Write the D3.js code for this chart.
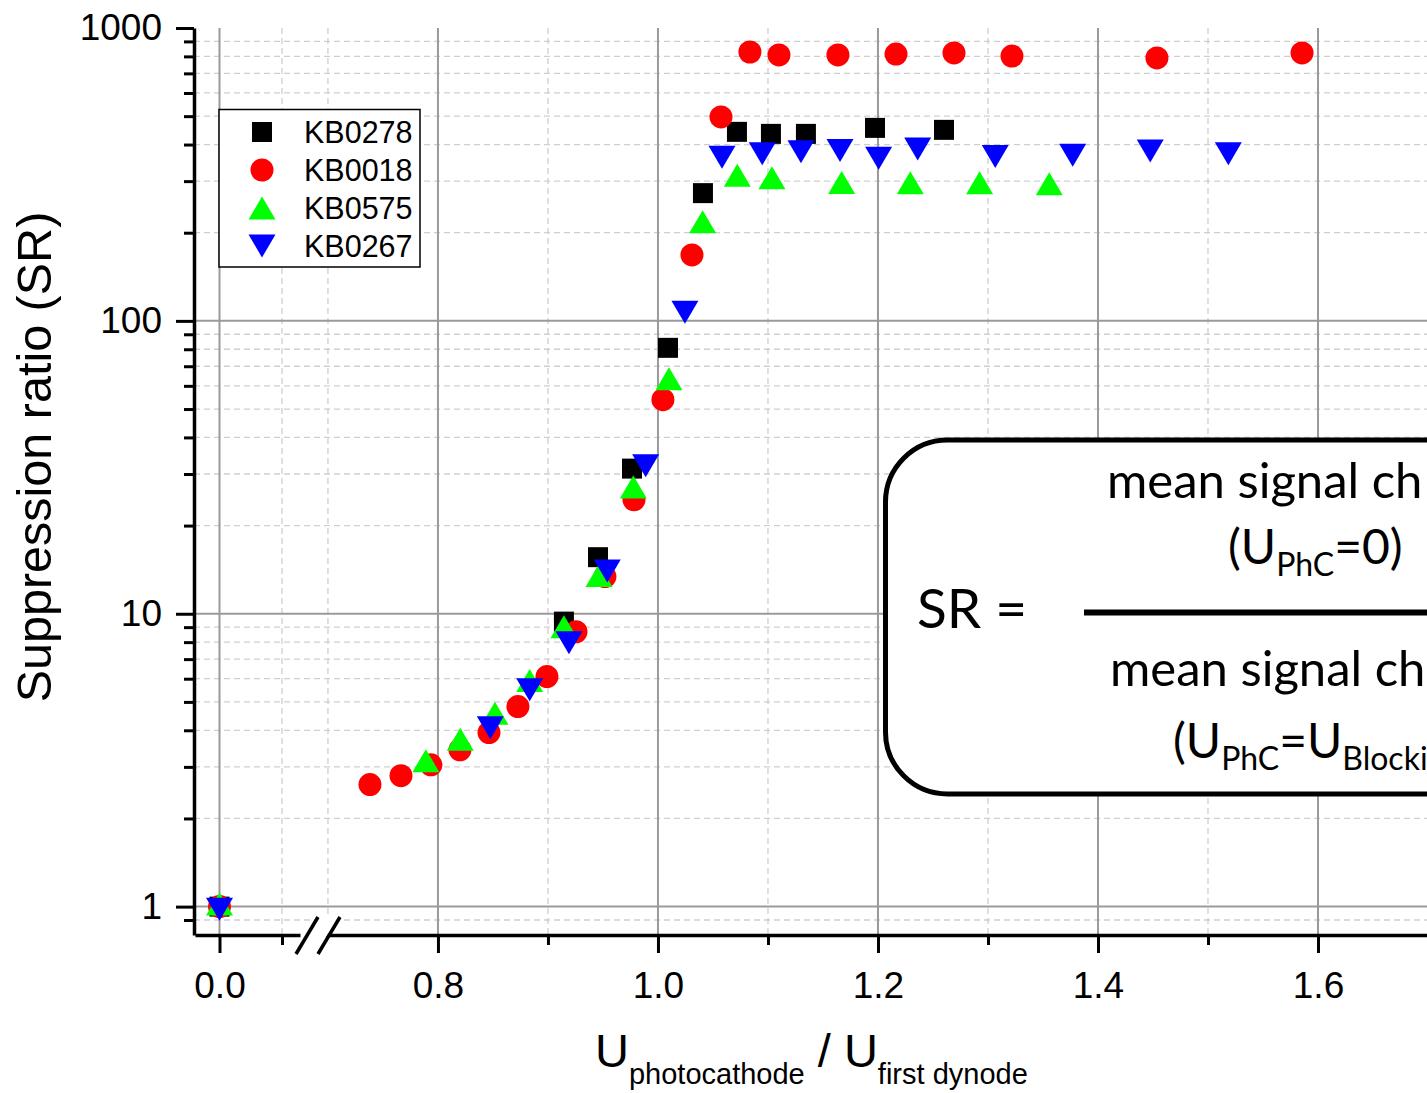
<!DOCTYPE html>
<html><head><meta charset="utf-8">
<script src="https://cdn.jsdelivr.net/npm/d3@7"></script>
<style>
body{margin:0;background:#fff;}
svg{display:block;}
text{font-family:"Liberation Sans",Arial,sans-serif;}
.f{font-family:Lato,"Open Sans",sans-serif;}
</style>
</head><body>
<svg id="c" width="1427" height="1093"></svg>
<script>
// ---------- data ----------
const seriesNames = ["KB0278", "KB0018", "KB0575", "KB0267"];
const seriesColors = ["#000000", "#ff0000", "#00ff00", "#0000ff"];
const seriesShapes = ["square", "circle", "up", "down"];

const kb0278X = [0.0, 0.9145, 0.9455, 0.9764, 1.0091, 1.0409, 1.0718, 1.1027, 1.1345, 1.1973, 1.2600];
const kb0278Y = [1.0, 9.4, 15.6, 31.3, 80.9, 273, 442, 435, 435, 456, 449];

const kb0018X = [0.0, 0.7382, 0.7664, 0.7936, 0.8200, 0.8464, 0.8727, 0.8991, 0.9255, 0.9518, 0.9782, 1.0045, 1.0309, 1.0573, 1.0836, 1.1100, 1.1636, 1.2164, 1.2691, 1.3218, 1.4536, 1.5855];
const kb0018Y = [1.0, 2.61, 2.80, 3.05, 3.43, 3.93, 4.82, 6.10, 8.68, 13.4, 24.5, 53.8, 168, 497, 828, 809, 809, 815, 822, 802, 790, 822];

const kb0575X = [0.0, 0.7890, 0.8203, 0.8518, 0.8834, 0.9145, 0.9464, 0.9776, 1.0100, 1.0406, 1.0721, 1.1036, 1.1670, 1.2294, 1.2924, 1.3557];
const kb0575Y = [1.02, 3.15, 3.73, 4.57, 5.92, 9.03, 13.5, 27.1, 63.5, 218, 314, 308, 297, 296, 296, 294];

const kb0267X = [0.0, 0.8476, 0.8834, 0.9191, 0.9539, 0.9888, 1.0245, 1.0582, 1.0948, 1.1300, 1.1655, 1.2006, 1.2361, 1.3066, 1.3770, 1.4475, 1.5185];
const kb0267Y = [0.98, 4.08, 5.50, 7.96, 14.0, 32.0, 107, 362, 372, 378, 382, 359, 386, 364, 368, 380, 372];

const xMajorTicksLeft = [0.0];
const xMinorTicksLeft = [0.1];
const xMajorTicksRight = [0.8, 1.0, 1.2, 1.4, 1.6];
const xMinorTicksRight = [0.9, 1.1, 1.3, 1.5, 1.7];
const xMinorGridRight = [0.7, 0.9, 1.1, 1.3, 1.5];
const yMajorTicks = [1, 10, 100, 1000];
const yTickLabels = ["1", "10", "100", "1000"];
const yMinorTicks = [0.9, 2, 3, 4, 5, 6, 7, 8, 9, 20, 30, 40, 50, 60, 70, 80, 90, 200, 300, 400, 500, 600, 700, 800, 900];

const xTitleMain = "U";
const xTitleSub1 = "photocathode";
const xTitleSub2 = "first dynode";
const yTitle = "Suppression ratio (SR)";

// ---------- layout ----------
const svg = d3.select("#c");
const plotTop = 28, plotBottom = 935, axisX = 194;

const y = d3.scaleLog().domain([0.8, 1000]).range([plotBottom, plotTop]);
const xL = d3.scaleLinear().domain([-0.0392, 0.1288]).range([195, 300]);
const xR = d3.scaleLinear().domain([0.6955, 1.7]).range([323, 1428]);
const x = v => (v < 0.4 ? xL(v) : xR(v));

// ---------- gridlines ----------
const grid = svg.append("g");
grid.append("g").selectAll("line").data(yMinorTicks).join("line")
  .attr("x1", axisX).attr("x2", 1427).attr("y1", d => y(d)).attr("y2", d => y(d))
  .attr("stroke", "#cfcfcf").attr("stroke-width", 1.3).attr("stroke-dasharray", "6,4");
grid.append("g").selectAll("line").data(xMinorTicksLeft).join("line")
  .attr("x1", d => xL(d)).attr("x2", d => xL(d)).attr("y1", plotTop).attr("y2", plotBottom)
  .attr("stroke", "#cfcfcf").attr("stroke-width", 1.3).attr("stroke-dasharray", "6,4");
grid.append("g").selectAll("line").data(xMinorGridRight).join("line")
  .attr("x1", d => xR(d)).attr("x2", d => xR(d)).attr("y1", plotTop).attr("y2", plotBottom)
  .attr("stroke", "#cfcfcf").attr("stroke-width", 1.3).attr("stroke-dasharray", "6,4");
grid.append("g").selectAll("line").data(yMajorTicks.filter(d => d < 1000)).join("line")
  .attr("x1", axisX).attr("x2", 1427).attr("y1", d => y(d)).attr("y2", d => y(d))
  .attr("stroke", "#9a9a9a").attr("stroke-width", 2);
grid.append("g").selectAll("line").data(xMajorTicksLeft.concat(xMajorTicksRight)).join("line")
  .attr("x1", d => x(d)).attr("x2", d => x(d)).attr("y1", plotTop).attr("y2", plotBottom)
  .attr("stroke", "#9a9a9a").attr("stroke-width", 2);

// ---------- axes ----------
function styleAxis(g) {
  g.selectAll("path.domain").attr("stroke", "#000").attr("stroke-width", 3.5);
  g.selectAll(".tick line").attr("stroke", "#000").attr("stroke-width", 3);
  g.selectAll("text").attr("fill", "#000").style("font-family", '"Liberation Sans",Arial,sans-serif').style("font-size", "37px");
}
const yAxisG = svg.append("g").attr("transform", `translate(${axisX},0)`);
yAxisG.call(d3.axisLeft(y).tickValues(yMajorTicks).tickSize(18).tickSizeOuter(0).tickPadding(14)
  .tickFormat((d, i) => yTickLabels[i]));
styleAxis(yAxisG);
const yMinG = svg.append("g").attr("transform", `translate(${axisX},0)`);
yMinG.call(d3.axisLeft(y).tickValues(yMinorTicks).tickSize(10).tickSizeOuter(0).tickFormat(""));
styleAxis(yMinG);
yMinG.select("path.domain").remove();

const xLG = svg.append("g").attr("transform", `translate(0,${plotBottom})`);
xLG.call(d3.axisBottom(xL).tickValues(xMajorTicksLeft).tickSize(18).tickSizeOuter(0).tickPadding(19).tickFormat(d3.format(".1f")));
styleAxis(xLG);
const xLmG = svg.append("g").attr("transform", `translate(0,${plotBottom})`);
xLmG.call(d3.axisBottom(xL).tickValues(xMinorTicksLeft).tickSize(10).tickSizeOuter(0).tickFormat(""));
styleAxis(xLmG); xLmG.select("path.domain").remove();

const xRG = svg.append("g").attr("transform", `translate(0,${plotBottom})`);
xRG.call(d3.axisBottom(xR).tickValues(xMajorTicksRight).tickSize(18).tickSizeOuter(0).tickPadding(19).tickFormat(d3.format(".1f")));
styleAxis(xRG);
const xRmG = svg.append("g").attr("transform", `translate(0,${plotBottom})`);
xRmG.call(d3.axisBottom(xR).tickValues(xMinorTicksRight).tickSize(10).tickSizeOuter(0).tickFormat(""));
styleAxis(xRmG); xRmG.select("path.domain").remove();

// break marks
const brk = svg.append("g");
brk.append("polygon").attr("points", "298,954 320,917 338,917 316,954").attr("fill", "#fff");
[[296, 954, 318, 917], [318, 954, 340, 917]].forEach(s => {
  brk.append("line").attr("x1", s[0]).attr("y1", s[1]).attr("x2", s[2]).attr("y2", s[3])
    .attr("stroke", "#000").attr("stroke-width", 3.5);
});

// ---------- markers ----------
function shapePath(shape) {
  if (shape === "square") return "M-10,-10H10V10H-10Z";
  if (shape === "circle") return "M-11.5,0A11.5,11.5 0 1,0 11.5,0A11.5,11.5 0 1,0 -11.5,0Z";
  if (shape === "up") return "M0,-11.5L13.5,11.5L-13.5,11.5Z";
  return "M0,11.5L13.5,-11.5L-13.5,-11.5Z";
}
const seriesData = [
  kb0278X.map((v, i) => [v, kb0278Y[i]]),
  kb0018X.map((v, i) => [v, kb0018Y[i]]),
  kb0575X.map((v, i) => [v, kb0575Y[i]]),
  kb0267X.map((v, i) => [v, kb0267Y[i]])
];
seriesData.forEach((pts, si) => {
  svg.append("g").selectAll("path").data(pts).join("path")
    .attr("d", shapePath(seriesShapes[si]))
    .attr("transform", d => `translate(${x(d[0])},${y(d[1])})`)
    .attr("fill", seriesColors[si]);
});

// ---------- legend ----------
const lg = svg.append("g");
lg.append("rect").attr("x", 219).attr("y", 109.5).attr("width", 201).attr("height", 157.5)
  .attr("fill", "#fff").attr("stroke", "#000").attr("stroke-width", 1.5);
seriesNames.forEach((n, i) => {
  const cy = 132 + i * 38;
  lg.append("path").attr("d", shapePath(seriesShapes[i])).attr("transform", `translate(262,${cy})`)
    .attr("fill", seriesColors[i]);
  lg.append("text").attr("x", 304).attr("y", cy + 11).attr("font-size", 30.5).attr("fill", "#000").text(n);
});

// ---------- titles ----------
svg.append("text").attr("transform", "translate(51,457) rotate(-90)").attr("text-anchor", "middle")
  .attr("font-size", 48.5).attr("fill", "#000").text(yTitle);

const xt = svg.append("text").attr("x", 595).attr("y", 1067).attr("font-size", 47).attr("fill", "#000");
xt.append("tspan").text(xTitleMain);
xt.append("tspan").attr("font-size", 29).attr("dy", 17).text(xTitleSub1);
xt.append("tspan").attr("dy", -17).text(" / " + xTitleMain);
xt.append("tspan").attr("font-size", 29).attr("dy", 17).text(xTitleSub2);

// ---------- formula box ----------
const fb = svg.append("g").attr("class", "f");
fb.append("rect").attr("x", 885.5).attr("y", 440).attr("width", 700).attr("height", 354).attr("rx", 62)
  .attr("fill", "#fff").attr("stroke", "#000").attr("stroke-width", 5);
fb.append("text").attr("class", "f").attr("x", 917).attr("y", 628).attr("font-size", 55).attr("fill", "#000").text("SR =");
fb.append("line").attr("x1", 1084).attr("x2", 1500).attr("y1", 612.5).attr("y2", 612.5)
  .attr("stroke", "#000").attr("stroke-width", 6);
fb.append("text").attr("class", "f").attr("x", 1107).attr("y", 498).attr("font-size", 49).attr("fill", "#000").text("mean signal ch");
fb.append("text").attr("class", "f").attr("x", 1110).attr("y", 686).attr("font-size", 49).attr("fill", "#000").text("mean signal ch");
const n1 = fb.append("text").attr("class", "f").attr("x", 1228).attr("y", 564).attr("font-size", 48).attr("fill", "#000");
n1.append("tspan").text("(U");
n1.append("tspan").attr("font-size", 32).attr("dy", 12).text("PhC");
n1.append("tspan").attr("dy", -12).text("=0)");
const n2 = fb.append("text").attr("class", "f").attr("x", 1173).attr("y", 758).attr("font-size", 48).attr("fill", "#000");
n2.append("tspan").text("(U");
n2.append("tspan").attr("font-size", 32).attr("dy", 12).text("PhC");
n2.append("tspan").attr("dy", -12).text("=U");
n2.append("tspan").attr("font-size", 32).attr("dy", 12).text("Blocki");
</script>
</body></html>
